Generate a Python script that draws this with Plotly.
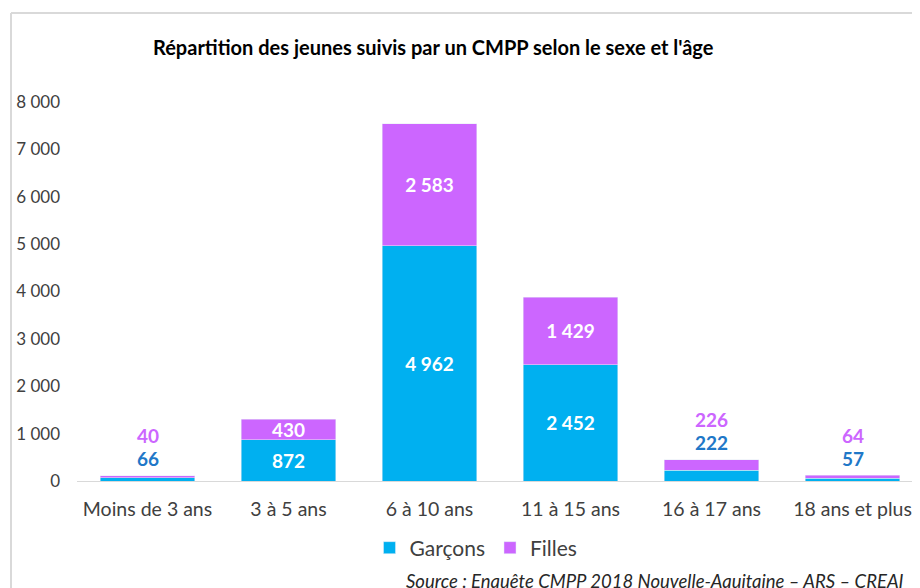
import plotly.graph_objects as go

categories = ["Moins de 3 ans", "3 à 5 ans", "6 à 10 ans", "11 à 15 ans", "16 à 17 ans", "18 ans et plus"]
garcons = [66, 872, 4962, 2452, 222, 57]
filles = [40, 430, 2583, 1429, 226, 64]
y_ticks = [0, 1000, 2000, 3000, 4000, 5000, 6000, 7000, 8000]

title = "Répartition des jeunes suivis par un CMPP selon le sexe et l'âge"
source = "Source : Enquête CMPP 2018 Nouvelle-Aquitaine – ARS – CREAI"

BLUE = "#00B0F0"
VIOLET = "#CC66FF"
BLUE_TXT = "#1F78C8"
FONT = "Lato, 'Open Sans', sans-serif"
SMALL = 600  # segments below this threshold get their labels above the bar
OFF = 8  # page body margin offset


def fmt(v):
    return f"{v:,}".replace(",", " ")


txt_g = [fmt(v) if (v >= SMALL) else "" for v in garcons]
txt_f = [fmt(v) if (g >= SMALL) else "" for v, g in zip(filles, garcons)]

fig = go.Figure()
fig.add_trace(go.Bar(x=categories, y=garcons, name="Garçons", marker_color=BLUE,
                     text=txt_g, textposition="inside", insidetextanchor="middle",
                     constraintext="none",
                     textfont=dict(color="white", size=19, family=FONT, weight="bold"),
                     width=0.67, hoverinfo="x+y+name"))
fig.add_trace(go.Bar(x=categories, y=filles, name="Filles", marker_color=VIOLET,
                     text=txt_f, textposition="inside", insidetextanchor="middle",
                     constraintext="none",
                     textfont=dict(color="white", size=19, family=FONT, weight="bold"),
                     width=0.67, hoverinfo="x+y+name"))

# labels above small stacks
for c, g, f in zip(categories, garcons, filles):
    if g < SMALL:
        tot = g + f
        fig.add_annotation(x=c, y=tot, text=f"<b>{fmt(g)}</b>", showarrow=False,
                           yshift=17, font=dict(color=BLUE_TXT, size=19, family=FONT),
                           yanchor="middle")
        fig.add_annotation(x=c, y=tot, text=f"<b>{fmt(f)}</b>", showarrow=False,
                           yshift=40, font=dict(color=VIOLET, size=19, family=FONT),
                           yanchor="middle")

W, H = 920 - OFF, 588 - OFF
L, R, T, B = 77 - OFF, 0, 102 - OFF, 588 - 481
pw, ph = W - L - R, H - T - B


def px(xp):
    return (xp - OFF - L) / pw


def py(yp):
    return (H - B - (yp - OFF)) / ph


fig.add_annotation(xref="paper", yref="paper", x=px(433), y=py(47), text=f"<b>{title}</b>",
                   showarrow=False, xanchor="center", yanchor="middle",
                   font=dict(size=20, color="#000000", family=FONT))
fig.add_annotation(xref="paper", yref="paper", x=px(906), y=py(581), text=f"<i>{source}</i>",
                   showarrow=False, xanchor="right", yanchor="middle",
                   font=dict(size=18.5, color="#262626", family=FONT))

# chart frame
fig.add_shape(type="line", xref="paper", yref="paper", x0=px(11), x1=px(11), y0=py(13), y1=py(600),
              line=dict(color="#D9D9D9", width=2))
fig.add_shape(type="line", xref="paper", yref="paper", x0=px(11), x1=px(930), y0=py(13), y1=py(13),
              line=dict(color="#D9D9D9", width=2))

fig.update_layout(
    width=W, height=H, barmode="stack", bargap=0.33,
    margin=dict(l=L, r=R, t=T, b=B, autoexpand=False),
    paper_bgcolor="white", plot_bgcolor="white",
    separators=", ",
    font=dict(family=FONT, color="#404040"),
    showlegend=True,
    uniformtext=dict(minsize=19, mode="show"),
    legend=dict(orientation="h", x=px(476), y=py(548), xanchor="center", yanchor="middle",
                font=dict(size=21, color="#404040", family=FONT), itemwidth=30,
                traceorder="normal"),
    xaxis=dict(range=[-0.5, -0.5 + (920 - 77) / 141], showline=True, linecolor="#D9D9D9", linewidth=1,
               ticks="", ticklabelstandoff=11,
               tickfont=dict(size=19.5, color="#404040", family=FONT), showgrid=False),
    yaxis=dict(range=[0, 8000], tickvals=y_ticks, tickformat=",d", showgrid=False,
               zeroline=False, showline=False, ticks="", ticklabelstandoff=16,
               tickfont=dict(size=17, color="#404040", family=FONT)),
)

fig.write_html("out.html")
